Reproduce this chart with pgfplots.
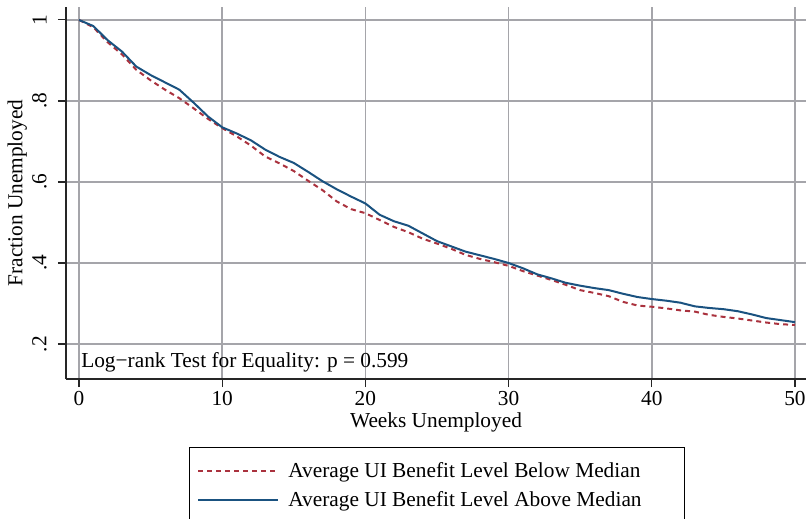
\documentclass[border=0pt]{standalone}
\usepackage{pgfplots}
\pgfplotsset{compat=1.18}
\usepackage{fontspec}
\setmainfont{Liberation Serif}

\definecolor{survblue}{RGB}{26,82,128}
\definecolor{survred}{RGB}{170,50,62}
\definecolor{gridgray}{RGB}{165,165,170}

\newcommand{\chartfont}{\fontsize{16}{19}\selectfont}

% Kaplan-Meier survival estimates by week
\pgfplotstableread{
week below above
0  1.000 1.000
1  0.982 0.985
2  0.945 0.950
3  0.915 0.922
4  0.877 0.885
5  0.851 0.864
6  0.828 0.846
7  0.807 0.828
8  0.782 0.796
9  0.756 0.762
10 0.733 0.735
11 0.713 0.720
12 0.690 0.703
13 0.663 0.680
14 0.646 0.662
15 0.627 0.647
16 0.603 0.625
17 0.580 0.602
18 0.552 0.582
19 0.533 0.564
20 0.523 0.547
21 0.506 0.519
22 0.489 0.503
23 0.476 0.492
24 0.460 0.473
25 0.448 0.454
26 0.435 0.441
27 0.420 0.428
28 0.410 0.419
29 0.402 0.410
30 0.393 0.400
31 0.380 0.387
32 0.369 0.372
33 0.358 0.362
34 0.346 0.351
35 0.333 0.344
36 0.326 0.338
37 0.318 0.333
38 0.304 0.324
39 0.295 0.316
40 0.292 0.311
41 0.288 0.307
42 0.283 0.302
43 0.280 0.293
44 0.272 0.289
45 0.267 0.286
46 0.263 0.281
47 0.258 0.273
48 0.253 0.264
49 0.249 0.259
50 0.247 0.254
}\survtable

\begin{document}
\begin{tikzpicture}
\begin{axis}[
  at={(0,0)}, anchor=south west,
  scale only axis, width=555pt, height=279pt,
  xmin=-0.908, xmax=50.77, ymin=0.1136, ymax=1.032,
  axis x line*=bottom, axis y line*=left,
  axis line style={-, line width=1.1pt, black!85},
  xtick={0,10,...,50}, ytick={0.2,0.4,0.6,0.8,1},
  yticklabels={.2,.4,.6,.8,1},
  tick align=outside, major tick length=6pt,
  tick style={line width=0.8pt, black!85},
  grid=major, grid style={line width=1.3pt, gridgray},
  /pgf/number format/assume math mode=true,
  ticklabel style={font=\chartfont},
  yticklabel style={xshift=-5pt, rotate=90, anchor=south},
  label style={font=\chartfont},
  xlabel={Weeks Unemployed}, ylabel={Fraction Unemployed},
  xlabel style={at={(axis description cs:0.5,-0.118)}, anchor=center},
  ylabel style={at={(axis description cs:-0.066,0.5)}, anchor=center},
  legend style={at={(0.501,-0.183)}, anchor=north, draw=black, line width=0.8pt,
    font=\chartfont, nodes={inner sep=2pt}, inner xsep=6pt, inner ysep=9pt,
    row sep=5pt, /tikz/every odd column/.append style={column sep=5pt}},
  legend cell align=left,
  legend image code/.code={\draw[#1] (0pt,0pt) -- (60pt,0pt);},
]
\addplot[survred, line width=1.5pt, dash pattern=on 3.75pt off 3pt] table[x=week, y=below] {\survtable};
\addlegendentry{Average UI Benefit Level Below Median\hspace*{25pt}}
\addplot[survblue, line width=1.5pt] table[x=week, y=above] {\survtable};
\addlegendentry{Average UI Benefit Level Above Median}
\node[anchor=west, font=\chartfont, inner sep=0pt] at (rel axis cs:0.0203,0.0457) {Log−rank Test for Equality: p = 0.599};
\end{axis}
\pgfresetboundingbox
\path[use as bounding box] (-49.5pt,-104.25pt) rectangle (555pt,284.25pt);
\end{tikzpicture}
\end{document}
